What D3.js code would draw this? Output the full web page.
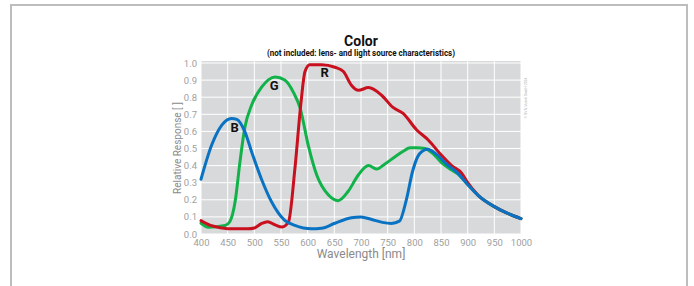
<!DOCTYPE html>
<html><head><meta charset="utf-8">
<script src="https://cdn.jsdelivr.net/npm/d3@7"></script>
<style>body{margin:0;background:#fff}svg{display:block}</style>
</head><body><svg id="c" width="694" height="286"></svg>
<script>
const xTicks = [400,450,500,550,600,650,700,750,800,850,900,950,1000];
const yTicks = [0,0.1,0.2,0.3,0.4,0.5,0.6,0.7,0.8,0.9,1.0];
const blueWl  = [400,420,439,457,467,482,495,514,532,557,576,607,626,651,682,700,720,740,757,772,785,797,810,825,840,860,880,900,920,950,975,1000];
const blueVal = [0.32,0.52,0.637,0.676,0.67,0.60,0.48,0.316,0.19,0.08,0.05,0.03,0.033,0.063,0.095,0.10,0.085,0.068,0.062,0.075,0.2,0.37,0.47,0.495,0.47,0.41,0.36,0.29,0.225,0.16,0.12,0.09];
const greenWl  = [400,414,445,454,464,473,482,495,514,539,557,573,586,601,617,639,657,676,695,714,729,745,764,780,792,805,820,835,850,870,880,900,920,950,975,1000];
const greenVal = [0.063,0.04,0.05,0.072,0.19,0.42,0.62,0.754,0.86,0.918,0.90,0.83,0.735,0.52,0.345,0.228,0.195,0.25,0.345,0.40,0.38,0.41,0.452,0.485,0.505,0.505,0.50,0.47,0.42,0.374,0.355,0.29,0.225,0.16,0.12,0.09];
const redWl  = [400,418,436,464,488,500,514,525,539,552,564,576,587,595,604,626,651,667,682,695,714,739,760,779,804,826,851,870,889,900,920,950,975,1000];
const redVal = [0.078,0.05,0.037,0.03,0.03,0.035,0.062,0.072,0.053,0.041,0.07,0.38,0.754,0.95,0.99,0.99,0.975,0.95,0.87,0.84,0.856,0.81,0.74,0.705,0.61,0.55,0.46,0.40,0.355,0.30,0.225,0.16,0.12,0.09];
const labels = [{t:"B",wl:463,v:0.598},{t:"G",wl:537,v:0.84},{t:"R",wl:632,v:0.92}];

const svg = d3.select("#c");
const font = "'Liberation Sans Narrow','Roboto','DejaVu Sans Condensed',sans-serif";
svg.append("rect").attr("x",11).attr("y",5).attr("width",676).attr("height",290)
  .attr("fill","#fff").attr("stroke","#bdbdbd").attr("stroke-width",2);

const x = d3.scaleLinear().domain([400,1000]).range([201,521]);
const y = d3.scaleLinear().domain([0,1]).range([234,63]);

svg.append("rect").attr("x",201).attr("y",61).attr("width",320).attr("height",173).attr("fill","#d8d9db");
const g = svg.append("g");
g.selectAll(".vg").data(xTicks).join("line").attr("x1",d=>x(d)).attr("x2",d=>x(d)).attr("y1",61).attr("y2",234).attr("stroke","#fff").attr("stroke-width",1);
g.selectAll(".hg").data(yTicks).join("line").attr("x1",201).attr("x2",521).attr("y1",d=>y(d)).attr("y2",d=>y(d)).attr("stroke","#fff").attr("stroke-width",1);

const xa = svg.append("g").attr("transform","translate(0,234)").call(d3.axisBottom(x).tickValues(xTicks).tickFormat(d3.format("d")).tickSize(0).tickPadding(5));
const ya = svg.append("g").attr("transform","translate(201,0)").call(d3.axisLeft(y).tickValues(yTicks).tickFormat(d3.format(".1f")).tickSize(0).tickPadding(4));
[xa,ya].forEach(a=>{a.select(".domain").remove();a.selectAll("text").attr("fill","#a0a0a0").style("font-family",font).style("font-size","9.5px");});

const line = d3.line().x((d,i)=>x(d[0])).y(d=>y(d[1])).curve(d3.curveMonotoneX);
const series = [
  {wl:greenWl,v:greenVal,c:"#12b24a"},
  {wl:redWl,v:redVal,c:"#c8101e"},
  {wl:blueWl,v:blueVal,c:"#0a72c2"}
];
series.forEach(s=>{
  svg.append("path").datum(s.wl.map((w,i)=>[w,s.v[i]])).attr("d",line)
    .attr("fill","none").attr("stroke",s.c).attr("stroke-width",3).attr("stroke-linejoin","round").attr("stroke-linecap","round");
});
svg.selectAll(".lab").data(labels).join("text").attr("x",d=>x(d.wl)).attr("y",d=>y(d.v))
  .attr("text-anchor","middle").style("font-family","'Roboto','Liberation Sans',sans-serif").style("font-weight","bold").style("font-size","13px").attr("fill","#111").text(d=>d.t);

svg.append("text").attr("x",361).attr("y",46).attr("text-anchor","middle").style("font-family","'Roboto',sans-serif").style("font-weight","bold").style("font-size","14px").attr("fill","#111").text("Color");
svg.append("text").attr("x",361).attr("y",56).attr("text-anchor","middle").attr("textLength",188).attr("lengthAdjust","spacingAndGlyphs").style("font-family","'Roboto',sans-serif").style("font-weight","bold").style("font-size","8.5px").attr("fill","#111").text("(not included: lens- and light source characteristics)");
svg.append("text").attr("x",361).attr("y",258).attr("text-anchor","middle").style("font-family",font).style("font-size","12px").attr("fill","#8a8a8a").text("Wavelength [nm]");
svg.append("text").attr("transform","translate(181,148) rotate(-90)").attr("text-anchor","middle").style("font-family","'Roboto','Liberation Sans',sans-serif").style("font-size","10px").attr("fill","#8a8a8a").text("Relative Response [ ]");
svg.append("text").attr("transform","translate(527,98) rotate(-90)").attr("text-anchor","middle").style("font-family","sans-serif").style("font-size","3.5px").attr("fill","#aaa").text("© SVS-Vistek GmbH 2024");
</script></body></html>
